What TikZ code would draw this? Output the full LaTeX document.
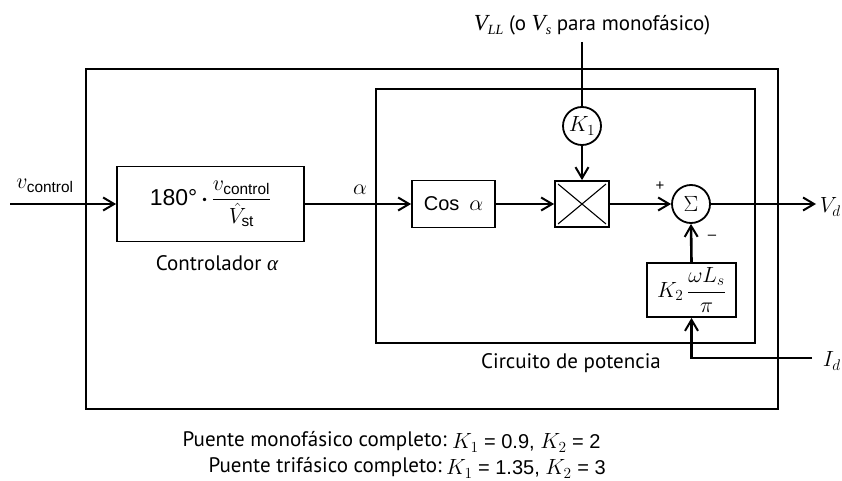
\RequirePackage{fix-cm}
\documentclass[tikz,border=0pt]{standalone}
\usepackage{amsmath}
\usepackage{fontspec}
\setsansfont{PT Sans}
\newfontfamily\hv{Liberation Sans}
\newfontfamily\tms{Liberation Serif}
\usetikzlibrary{arrows.meta,calc}
\begin{document}
\begin{tikzpicture}[x=1pt,y=-1pt,
  lbl/.style={font=\fontsize{21}{25}\selectfont\sffamily, inner sep=0pt},
  mth/.style={font=\fontsize{22}{26}\selectfont, inner sep=0pt},
  blk/.style={draw, line width=1.8pt, inner sep=0pt, font=\fontsize{22}{26}\selectfont},
  frame/.style={draw, line width=1.8pt, inner sep=0pt},
  circ/.style={draw, circle, line width=1.8pt, minimum size=38pt, inner sep=0pt, font=\fontsize{22}{26}\selectfont},
  sig/.style={line width=2.6pt, -{Straight Barb[length=11pt,width=13pt,line width=2pt]}},
  wire/.style={line width=2.6pt}
]
\useasboundingbox (0,0) rectangle (842,481);
% frames
\node[frame, minimum width=692pt, minimum height=340pt] (outer) at (432,239) {};
\node[frame, minimum width=379pt, minimum height=254pt] (inner) at (565.5,216) {};
% blocks
\node[blk, minimum width=187pt, minimum height=75pt] (ctrl) at (210.5,204)
  {{\hv\fontsize{23}{26}\selectfont 180\textdegree}\,$\boldsymbol{\cdot}\,\dfrac{v_{\text{\hv control}}}{\hat{V}_{\text{\hv st}}}$};
\node[blk, minimum width=83pt, minimum height=47pt] (cos) at (453.5,204) {{\hv\fontsize{20}{24}\selectfont Cos}\;\,$\alpha$};
\node[blk, minimum width=54pt, minimum height=46pt] (mult) at (582,204) {};
\draw[line width=1.1pt] ($(mult.north west)+(4,4)$) -- ($(mult.south east)+(-4,-4)$);
\draw[line width=1.1pt] ($(mult.north east)+(-4,4)$) -- ($(mult.south west)+(4,-4)$);
\node[circ] (k1) at (582,126) {$K_1$};
\node[circ] (sum) at (691,204) {$\Sigma$};
\node[blk, minimum width=89pt, minimum height=54pt] (k2) at (691.5,290) {$K_2\,\dfrac{\omega L_s}{\pi}$};
% free ends
\coordinate (in) at (10,204);
\coordinate (vll) at (582,42);
\coordinate (vd) at (816,204);
\coordinate (id) at (812,358);
% connectors
\draw[sig] (in) -- (ctrl.west);
\draw[sig] (ctrl.east) -- (cos.west);
\draw[sig] (cos.east) -- (mult.west);
\draw[wire] (vll) -- (k1.north);
\draw[sig] (k1.south) -- (mult.north);
\draw[sig] (mult.east) -- (sum.west);
\draw[sig] (sum.east) -- (vd);
\draw[sig] (k2.north) -- (sum.south);
\draw[sig] (id) -| (k2.south);
% labels
\node[mth] (lvc) at (45,186) {$v_{\text{\hv control}}$};
\node[mth] (lalpha) at (360,190) {$\alpha$};
\node[lbl] (lctrl) at (217,263) {Controlador {\tms\itshape α}};
\node[font=\fontsize{15}{17}\selectfont\hv, inner sep=0pt] (lplus) at (660,186) {+};
\node[font=\fontsize{15}{17}\selectfont\hv, inner sep=0pt] (lminus) at (712,237) {–};
\node[mth, anchor=east] (lvd) at (841,207) {$V_d$};
\node[mth, anchor=east] (lid) at (841,361) {$I_d$};
\node[lbl] (lcirc) at (571,363) {Circuito de potencia};
\node[lbl] (lvll) at (592,25) {{\tms\itshape\fontsize{23}{26}\selectfont V}\raisebox{-4pt}{\tms\itshape\fontsize{14}{16}\selectfont LL} (o {\tms\itshape\fontsize{23}{26}\selectfont V}\raisebox{-4pt}{\tms\itshape\fontsize{14}{16}\selectfont s} para monofásico)};
\node[lbl, anchor=east] (lmono) at (447,441) {Puente monofásico completo:};
\node[mth, anchor=west] (kmono) at (452,443) {$K_1${\hv\fontsize{20}{24}\selectfont\ = 0.9, }$K_2${\hv\fontsize{20}{24}\selectfont\ = 2}};
\node[lbl, anchor=east] (ltri) at (442,467) {Puente trifásico completo:};
\node[mth, anchor=west] (ktri) at (446,469) {$K_1${\hv\fontsize{20}{24}\selectfont\ = 1.35, }$K_2${\hv\fontsize{20}{24}\selectfont\ = 3}};
\end{tikzpicture}
\end{document}
